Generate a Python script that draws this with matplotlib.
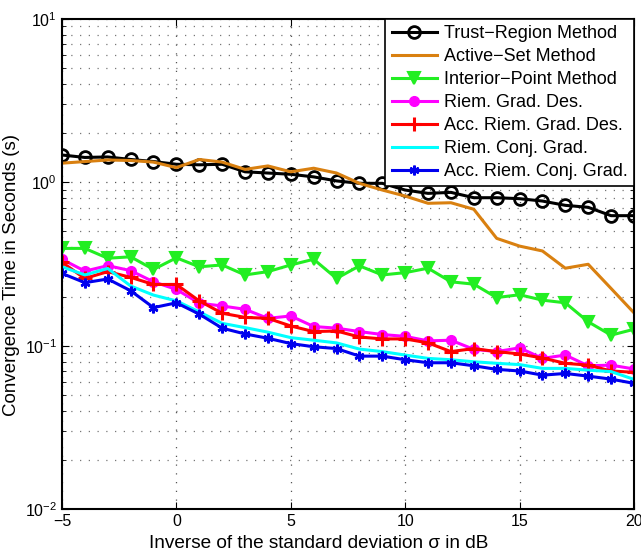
import numpy as np
import matplotlib
matplotlib.use('Agg')
import matplotlib.pyplot as plt
from matplotlib.ticker import LogLocator, NullFormatter

plt.rcParams['font.family'] = ['Liberation Sans', 'DejaVu Sans']

snr_db = list(range(-5, 21))

trust_region = [1.47, 1.42, 1.43, 1.38, 1.34, 1.29, 1.28, 1.29, 1.16, 1.14, 1.12, 1.08, 1.02,
                0.986, 0.986, 0.897, 0.856, 0.868, 0.805, 0.805, 0.794, 0.768, 0.723, 0.703, 0.625, 0.625]
active_set = [1.31, 1.34, 1.37, 1.36, 1.33, 1.23, 1.38, 1.33, 1.20, 1.26, 1.16, 1.22, 1.14,
              0.986, 0.897, 0.824, 0.744, 0.75, 0.684, 0.454, 0.407, 0.38, 0.298, 0.315, 0.224, 0.159]
interior_point = [0.394, 0.394, 0.343, 0.350, 0.293, 0.345, 0.304, 0.312, 0.271, 0.284, 0.312, 0.338, 0.258,
                  0.308, 0.271, 0.280, 0.298, 0.246, 0.238, 0.197, 0.205, 0.190, 0.183, 0.140, 0.116, 0.126]
riem_grad = [0.338, 0.286, 0.309, 0.288, 0.246, 0.221, 0.182, 0.175, 0.167, 0.147, 0.152, 0.131, 0.128,
             0.122, 0.117, 0.114, 0.107, 0.108, 0.095, 0.092, 0.097, 0.0836, 0.0876, 0.0753, 0.076, 0.072]
acc_riem_grad = [0.324, 0.258, 0.284, 0.262, 0.237, 0.237, 0.188, 0.158, 0.149, 0.147, 0.132, 0.122, 0.123,
                 0.113, 0.110, 0.110, 0.104, 0.092, 0.096, 0.092, 0.089, 0.084, 0.078, 0.076, 0.070, 0.0687]
riem_conj = [0.304, 0.271, 0.297, 0.232, 0.204, 0.188, 0.161, 0.137, 0.129, 0.121, 0.112, 0.108, 0.104,
             0.0953, 0.092, 0.0876, 0.0836, 0.082, 0.0797, 0.078, 0.0766, 0.0726, 0.0726, 0.0708, 0.0694, 0.0622]
acc_riem_conj = [0.277, 0.243, 0.256, 0.217, 0.171, 0.183, 0.156, 0.128, 0.118, 0.111, 0.103, 0.0985, 0.096,
                 0.0863, 0.0863, 0.082, 0.0786, 0.0786, 0.0753, 0.0716, 0.070, 0.066, 0.0676, 0.0651, 0.0624, 0.0588]

fig = plt.figure(figsize=(6.41, 5.5), dpi=100)
ax = fig.add_axes([0.0967, 0.0745, 0.8923, 0.891])

lw = 2.2
ax.semilogy(snr_db, trust_region, color='black', lw=lw, marker='o', ms=8.5, mfc='none', mew=2,
            label='Trust\u2212Region Method')
ax.semilogy(snr_db, active_set, color='#d98010', lw=lw, label='Active\u2212Set Method')
ax.semilogy(snr_db, interior_point, color='#22ee22', lw=lw, marker='v', ms=9, mfc='#22ee22', mew=1.5,
            label='Interior\u2212Point Method')
ax.semilogy(snr_db, riem_grad, color='#ff00ff', lw=lw, marker='o', ms=7, mew=1,
            label='Riem. Grad. Des.')
ax.semilogy(snr_db, acc_riem_grad, color='#ff0000', lw=lw, marker='+', ms=10, mew=2.2,
            label='Acc. Riem. Grad. Des.')
ax.semilogy(snr_db, riem_conj, color='#00ffff', lw=lw, label='Riem. Conj. Grad.')
ax.semilogy(snr_db, acc_riem_conj, color='#0000ee', lw=lw, marker=(6, 2, 0), ms=7, mew=1.8,
            label='Acc. Riem. Conj. Grad.')

ax.set_xlim(-5, 20)
ax.set_ylim(1e-2, 1e1)
ax.set_xticks([-5, 0, 5, 10, 15, 20])
ax.yaxis.set_major_locator(LogLocator(base=10, numticks=10))
ax.yaxis.set_minor_locator(LogLocator(base=10, subs=np.arange(2, 10), numticks=30))
ax.yaxis.set_minor_formatter(NullFormatter())

ax.grid(True, which='major', axis='both', color='#555555', linestyle=(0, (1, 6)), lw=0.9)
ax.grid(True, which='minor', axis='y', color='#777777', linestyle=(0, (1, 6)), lw=0.9)
ax.tick_params(which='both', direction='in', top=True, right=True, labelsize=11.5)
ax.tick_params(which='major', length=5)
ax.tick_params(which='minor', length=3)
for s in ax.spines.values():
    s.set_linewidth(1.5)

ax.set_xlabel('Inverse of the standard deviation \u03c3 in dB', fontsize=13.7)
ax.xaxis.set_label_coords(0.449, -0.052)
ax.set_ylabel('Convergence Time in Seconds (s)', fontsize=13.5)
ax.yaxis.set_label_coords(-0.073, 0.478)

leg = ax.legend(loc='upper right', fontsize=13, frameon=True, fancybox=False, borderaxespad=0,
                handlelength=2.5, handletextpad=0.4, labelspacing=0.33, borderpad=0.35)
leg.get_frame().set_edgecolor('black')
leg.get_frame().set_linewidth(1.2)
leg.get_frame().set_alpha(1)

fig.savefig('out.png', dpi=100)
